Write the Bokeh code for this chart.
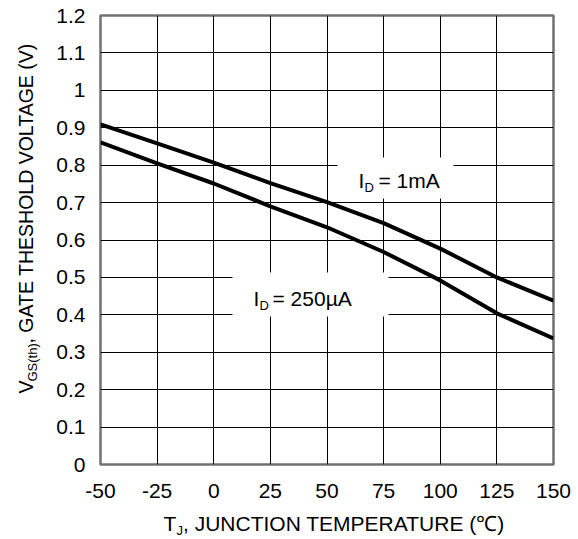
import math
from bokeh.plotting import figure
from bokeh.layouts import row, column
from bokeh.models import Label, BoxAnnotation, FixedTicker, Range1d
from bokeh.core.properties import value
from bokeh.embed import file_html
from bokeh.resources import INLINE

# ---- data ----
temp = [-50, -25, 0, 25, 50, 75, 100, 125, 150]
vth_1mA = [0.909, 0.858, 0.807, 0.752, 0.701, 0.645, 0.577, 0.500, 0.438]
vth_250uA = [0.861, 0.805, 0.751, 0.690, 0.634, 0.568, 0.492, 0.404, 0.337]
x_ticks = [-50, -25, 0, 25, 50, 75, 100, 125, 150]
x_tick_labels = ["-50", "-25", "0", "25", "50", "75", "100", "125", "150"]
y_ticks = [0.0, 0.1, 0.2, 0.3, 0.4, 0.5, 0.6, 0.7, 0.8, 0.9, 1.0, 1.1, 1.2]
y_tick_labels = ["0", "0.1", "0.2", "0.3", "0.4", "0.5", "0.6", "0.7", "0.8", "0.9", "1", "1.1", "1.2"]
x_title = ["T", "J", ", JUNCTION TEMPERATURE (\u2103)"]
y_title = ["V", "GS(th)", ", GATE THESHOLD VOLTAGE (V)"]
label_1mA = ["I", "D", "= 1mA"]
label_250uA = ["I", "D", "= 250\u00b5A"]

FONT = "Liberation Sans"
SHIFT = 0.34  # baseline correction, in em

# ---- main plot ----
PH = 509
p = figure(width=528, height=PH, output_backend="svg", toolbar_location=None,
           x_range=Range1d(-50, 150), y_range=Range1d(0, 1.2))
p.min_border_left = 50
p.min_border_right = 25
p.min_border_top = 15
p.min_border_bottom = 45
p.background_fill_color = "white"
p.border_fill_color = "white"
p.outline_line_color = "#707070"
p.outline_line_width = 2.5

p.xaxis.ticker = FixedTicker(ticks=x_ticks)
p.yaxis.ticker = FixedTicker(ticks=y_ticks)
p.xaxis.major_label_overrides = {t: s for t, s in zip(x_ticks, x_tick_labels)}
p.yaxis.major_label_overrides = {t: s for t, s in zip(y_ticks, y_tick_labels)}
for ax in (p.xaxis, p.yaxis):
    ax.axis_line_color = None
    ax.major_tick_line_color = None
    ax.minor_tick_line_color = None
    ax.major_tick_in = 0
    ax.major_tick_out = 0
    ax.minor_tick_in = 0
    ax.minor_tick_out = 0
    ax.major_label_text_font = FONT
    ax.major_label_text_font_size = "21px"
    ax.major_label_text_color = "black"
p.xaxis.major_label_standoff = 19
p.yaxis.major_label_standoff = 15

p.xgrid.ticker = FixedTicker(ticks=x_ticks)
p.ygrid.ticker = FixedTicker(ticks=y_ticks)
for g in (p.xgrid, p.ygrid):
    g.grid_line_color = "black"
    g.grid_line_width = 1
    g.grid_line_alpha = 1.0

p.line(temp, vth_1mA, line_color="black", line_width=4)
p.line(temp, vth_250uA, line_color="black", line_width=4)


# page pixel -> data helpers (layout only)
def dx(px):
    return -50 + (px - 100) * 200 / 453


def dy(py):
    return (464 - py) * 1.2 / 449


# white boxes behind curve labels
p.add_layout(BoxAnnotation(left=dx(337), right=dx(453), top=dy(157), bottom=dy(198),
                           fill_color="white", fill_alpha=1, line_color=None))
p.add_layout(BoxAnnotation(left=dx(232), right=dx(388), top=dy(272), bottom=dy(316),
                           fill_color="white", fill_alpha=1, line_color=None))


def lab(px, py, text, size):
    py = py - SHIFT * size
    p.add_layout(Label(x=dx(px), y=dy(py), text=text, text_font=FONT,
                       text_font_size=f"{size}px", text_color="black",
                       text_align="left", text_baseline="alphabetic"))


lab(358, 187, label_1mA[0], 21)
lab(364, 191, label_1mA[1], 13)
lab(378, 187, label_1mA[2], 21)

lab(253, 305, label_250uA[0], 21)
lab(259, 309, label_250uA[1], 13)
lab(272, 305, label_250uA[2], 21)


def bare(fig):
    fig.min_border = 0
    fig.min_border_left = 0
    fig.min_border_right = 0
    fig.min_border_top = 0
    fig.min_border_bottom = 0
    fig.outline_line_color = None
    fig.background_fill_color = "white"
    fig.border_fill_color = "white"


# ---- y-axis title panel (its frame lines up with the main frame: 15..464) ----
LW = 50
left = figure(width=LW, height=PH, output_backend="svg", toolbar_location=None,
              x_range=Range1d(0, LW), y_range=Range1d(0, 449),
              x_axis_location=None, y_axis_location=None)
bare(left)
left.grid.visible = False
A = math.pi / 2
for txt, bx, by, sz in zip(y_title, [32, 36, 32], [393, 381, 343], [19.5, 13, 19.5]):
    left.text(x=[bx - SHIFT * sz], y=[464 - by], text=[txt], angle=A, text_font=value(FONT),
              text_font_size=f"{sz}px", text_color="black",
              text_align="left", text_baseline="alphabetic")

# ---- x-axis title panel ----
BW, BH = 578, 539 - PH
bottom = figure(width=BW, height=BH, output_backend="svg", toolbar_location=None,
                x_range=Range1d(0, BW), y_range=Range1d(0, BH),
                x_axis_location=None, y_axis_location=None)
bare(bottom)
bottom.grid.visible = False
for txt, bx, by, sz in zip(x_title, [163, 176, 182.5], [530, 534, 530], [21, 13, 21]):
    bottom.text(x=[bx], y=[539 - (by - SHIFT * sz)], text=[txt], text_font=value(FONT),
                text_font_size=f"{sz}px", text_color="black",
                text_align="left", text_baseline="alphabetic")

layout = column(row(left, p), bottom)
open("out.html", "w").write(file_html(layout, INLINE))
